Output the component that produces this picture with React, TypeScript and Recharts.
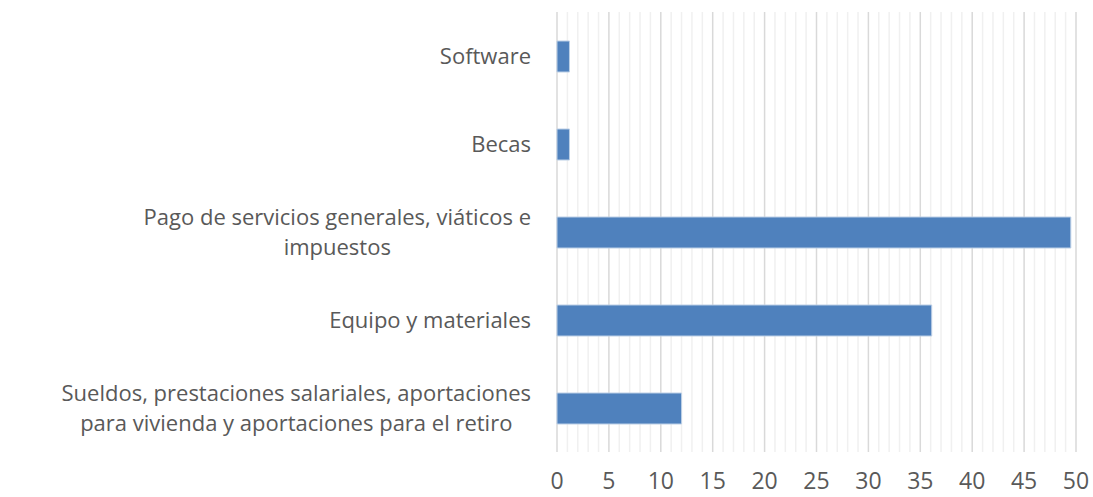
import { BarChart, Bar, XAxis, YAxis, CartesianGrid } from 'recharts';

// categories top to bottom, as they appear in the chart
const categories = [
  'Software',
  'Becas',
  'Pago de servicios generales, viáticos e impuestos',
  'Equipo y materiales',
  'Sueldos, prestaciones salariales, aportaciones para vivienda y aportaciones para el retiro',
];
const percentages = [1.2, 1.2, 49.5, 36.1, 12.0];
const xTicks = Array.from({ length: 51 }, (_, i) => i);

const data = categories.map((name, i) => ({ name, value: percentages[i] }));

const FONT_SIZE = 22;
const FONT = `${FONT_SIZE}px "Open Sans"`;
const WRAP_WIDTH = 488;

let ctx: CanvasRenderingContext2D | null = null;
const measure = (s: string) => {
  if (!ctx) ctx = document.createElement('canvas').getContext('2d');
  if (!ctx) return s.length * FONT_SIZE * 0.5;
  ctx.font = FONT;
  return ctx.measureText(s).width;
};

const wrap = (text: string) => {
  const words = text.split(' ');
  const lines: string[] = [];
  let cur = '';
  for (const w of words) {
    const next = cur ? `${cur} ${w}` : w;
    if (cur && measure(next) > WRAP_WIDTH) {
      lines.push(cur);
      cur = w;
    } else {
      cur = next;
    }
  }
  if (cur) lines.push(cur);
  return lines;
};

const CategoryTick = (props: any) => {
  const { x, y, payload } = props;
  const lines = wrap(String(payload.value));
  const blockW = Math.max(...lines.map(measure));
  const cx = x - 18 - blockW / 2;
  const lh = 30;
  const top = y - ((lines.length - 1) * lh) / 2;
  return (
    <g>
      {lines.map((l, i) => (
        <text
          key={i}
          x={cx}
          y={top + i * lh}
          dy="0.35em"
          textAnchor="middle"
          fill="#595959"
          style={{ fontFamily: '"Open Sans"', fontSize: FONT_SIZE }}
        >
          {l}
        </text>
      ))}
    </g>
  );
};

const GridLine = (props: any) => {
  const { x1, y1, x2, y2, index } = props;
  const major = index % 5 === 0;
  return (
    <line
      x1={x1}
      y1={y1}
      x2={x2}
      y2={y2}
      stroke={major ? '#d9d9d9' : '#f0f0f0'}
      strokeWidth={1.5}
    />
  );
};

export default function App() {
  return (
    <div style={{ position: 'fixed', top: 0, left: 0, background: '#fff' }}>
      <BarChart
        width={1093}
        height={497}
        data={data}
        layout="vertical"
        margin={{ top: 12, right: 17, bottom: 0, left: 0 }}
      >
        <CartesianGrid horizontal={false} vertical={GridLine} />
        <XAxis
          type="number"
          domain={[0, 50]}
          ticks={xTicks}
          interval={0}
          axisLine={false}
          tickLine={false}
          tickSize={0}
          tickMargin={21}
          tickFormatter={(v: number) => (v % 5 === 0 ? String(v) : '')}
          tick={{ fill: '#595959', fontSize: 23, fontFamily: '"Open Sans"' }}
          height={45}
        />
        <YAxis
          type="category"
          dataKey="name"
          width={557}
          axisLine={false}
          tickLine={false}
          interval={0}
          tick={<CategoryTick />}
        />
        <Bar
          dataKey="value"
          fill="#4f81bd"
          stroke="#bccfe6"
          strokeWidth={1}
          barSize={31}
          isAnimationActive={false}
        />
      </BarChart>
    </div>
  );
}
